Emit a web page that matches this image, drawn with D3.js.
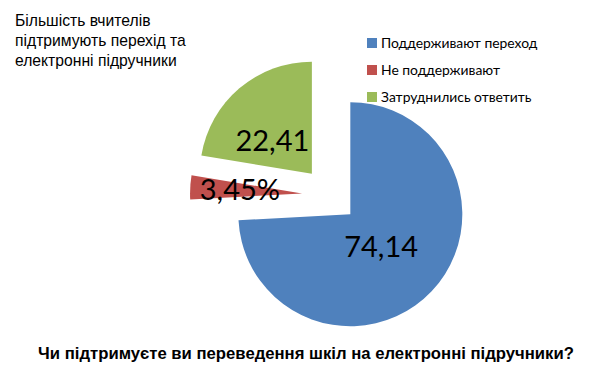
<html>
<head>
<meta charset="UTF-8">
<script src="https://d3js.org/d3.v7.min.js"></script>
<style>
  body { margin: 0; background: #fff; }
  svg { display: block; }
</style>
</head>
<body>
<svg id="chart"></svg>
<script>
var categories = ["Поддерживают переход", "Не поддерживают", "Затруднились ответить"];
var values = [74.14, 3.45, 22.41];
var labels = ["74,14", "3,45%", "22,41"];
var colors = ["#4f81bd", "#c0504d", "#9bbb59"];
var titleLines = ["Більшість вчителів", "підтримують перехід та", "електронні підручники"];
var question = "Чи підтримуєте ви переведення шкіл на електронні підручники?";

var width = 594, height = 372;
var cx = 330, cy = 195, radius = 112, explode = 28;

var svg = d3.select("#chart").attr("width", width).attr("height", height);

var pie = d3.pie().sort(null).value(d => d)(values);
var arc = d3.arc().innerRadius(0).outerRadius(radius);

function offset(d) {
  var a = (d.startAngle + d.endAngle) / 2;
  return [explode * Math.sin(a), -explode * Math.cos(a)];
}

var g = svg.append("g").attr("transform", "translate(" + cx + "," + cy + ")");

var slices = g.selectAll("g.slice")
  .data(pie)
  .enter()
  .append("g")
  .attr("class", "slice")
  .attr("transform", d => "translate(" + offset(d) + ")");

slices.append("path")
  .attr("d", arc)
  .attr("fill", (d, i) => colors[i]);

// labels sit inside the slices, nudged like excel placed them
var labelArc = d3.arc().innerRadius(radius * 0.6).outerRadius(radius * 0.6);
var labelNudge = [[-18, -14], [5, 0], [4, 18]];
slices.append("text")
  .attr("transform", function (d, i) {
    var c = labelArc.centroid(d);
    return "translate(" + (c[0] + labelNudge[i][0]) + "," + (c[1] + labelNudge[i][1]) + ")";
  })
  .attr("text-anchor", "middle")
  .attr("dy", "0.35em")
  .style("font-family", "Lato, 'Open Sans', sans-serif")
  .style("font-size", "29px")
  .attr("fill", "#000")
  .text((d, i) => labels[i]);

// title top-left
svg.append("g").selectAll("text")
  .data(titleLines)
  .enter()
  .append("text")
  .attr("x", 15)
  .attr("y", (d, i) => 26 + i * 20)
  .style("font-family", "'Liberation Sans', Arial, sans-serif")
  .style("font-size", "15.7px")
  .attr("fill", "#000")
  .text(d => d);

// legend
var legend = svg.append("g").selectAll("g")
  .data(categories)
  .enter()
  .append("g")
  .attr("transform", (d, i) => "translate(367," + (43 + i * 27) + ")");
legend.append("rect")
  .attr("x", 0).attr("y", -5)
  .attr("width", 10).attr("height", 10)
  .attr("fill", (d, i) => colors[i]);
legend.append("text")
  .attr("x", 14)
  .attr("dy", "0.35em")
  .style("font-family", "Lato, 'Open Sans', sans-serif")
  .style("font-size", "13.9px")
  .attr("fill", "#000")
  .text(d => d);

// bottom question
svg.append("text")
  .attr("x", 306)
  .attr("y", 359)
  .attr("text-anchor", "middle")
  .style("font-family", "'Liberation Sans', Arial, sans-serif")
  .style("font-size", "16.7px")
  .style("font-weight", "bold")
  .attr("fill", "#000")
  .text(question);
</script>
</body>
</html>
